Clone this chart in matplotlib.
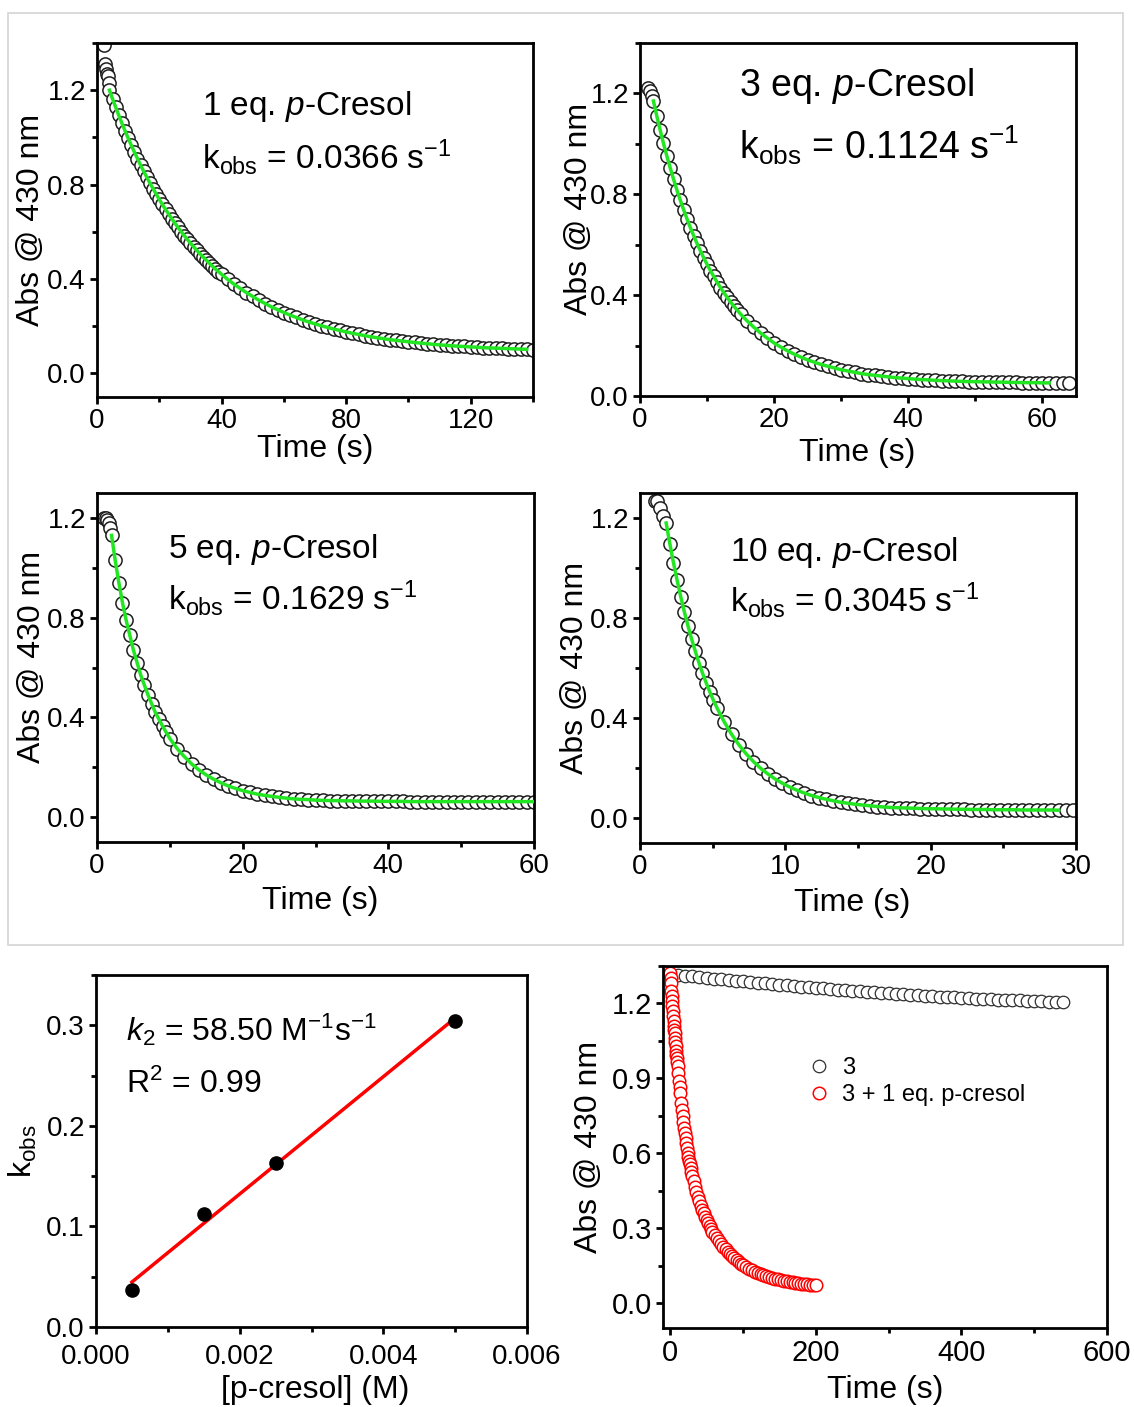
import matplotlib
matplotlib.use('Agg')
import matplotlib.pyplot as plt
from matplotlib.patches import Rectangle
from matplotlib.ticker import MultipleLocator, FormatStrFormatter
import numpy as np

plt.rcParams['font.family'] = ['Liberation Sans', 'DejaVu Sans']
plt.rcParams['mathtext.fontset'] = 'custom'
plt.rcParams['mathtext.rm'] = 'Liberation Sans'
plt.rcParams['mathtext.it'] = 'Liberation Sans:italic'
plt.rcParams['mathtext.bf'] = 'Liberation Sans:bold'

# ---- data ----
# 1 eq. p-cresol
t_1eq = [2.2, 2.5, 2.8, 3.1, 3.4, 3.7,
         4, 5, 6, 7, 8, 9, 10, 11, 12, 13, 14, 15, 16, 17, 18, 19, 20, 21,
         22, 23, 24, 25, 26, 27, 28, 29, 30, 31, 32, 33, 34, 35, 36, 37, 38, 39,
         40, 42, 44, 46, 48, 50, 52, 54, 56, 58, 60, 62, 64, 66, 68, 70, 72,
         74, 76, 78, 80, 82, 84, 86, 88, 90, 92, 94, 96, 98, 100, 102, 104,
         106, 108, 110, 112, 114, 116, 118, 120, 122, 124, 126, 128, 130, 132,
         134, 136, 138, 140]
a_1eq = [1.39, 1.31, 1.29, 1.27, 1.26, 1.23,
         1.200, 1.163, 1.128, 1.093, 1.060, 1.028, 0.997, 0.967, 0.938, 0.910,
         0.882, 0.856, 0.831, 0.806, 0.783, 0.760, 0.737, 0.716, 0.695, 0.675,
         0.656, 0.637, 0.619, 0.601, 0.584, 0.568, 0.552, 0.537, 0.522, 0.508,
         0.494, 0.481, 0.468, 0.455, 0.443, 0.431,
         0.420, 0.398, 0.378, 0.360, 0.342, 0.326, 0.310, 0.296, 0.282, 0.270,
         0.258, 0.247, 0.237, 0.227, 0.218, 0.210, 0.202, 0.195, 0.188, 0.182,
         0.176, 0.170, 0.165, 0.160, 0.155, 0.151, 0.147, 0.143, 0.140, 0.137,
         0.134, 0.131, 0.128, 0.126, 0.123, 0.121, 0.119, 0.117, 0.115, 0.114,
         0.112, 0.111, 0.109, 0.108, 0.107, 0.106, 0.105, 0.104, 0.103, 0.102,
         0.101]

# 3 eq. p-cresol
t_3eq = [1.2, 1.5, 1.8, 2, 2.5, 3, 3.5, 4, 4.5, 5, 5.5, 6, 6.5, 7, 7.5, 8,
         8.5, 9, 9.5, 10, 10.5, 11, 11.5, 12, 12.5, 13, 13.5, 14, 14.5, 15,
         16, 17, 18, 19, 20, 21, 22, 23, 24, 25, 26, 27, 28, 29, 30, 31, 32,
         33, 34, 35, 36, 37, 38, 39, 40, 41, 42, 43, 44, 45, 46, 47, 48, 49,
         50, 51, 52, 53, 54, 55, 56, 57, 58, 59, 60, 61, 62, 63, 64]
a_3eq = [1.22, 1.21, 1.19, 1.170, 1.111, 1.055, 1.002, 0.952, 0.905, 0.860,
         0.817, 0.777, 0.739, 0.703, 0.668, 0.636, 0.605, 0.576, 0.548, 0.522,
         0.497, 0.474, 0.451, 0.430, 0.410, 0.391, 0.373, 0.356, 0.340, 0.325,
         0.297, 0.272, 0.249, 0.229, 0.210, 0.194, 0.179, 0.166, 0.154, 0.143,
         0.134, 0.125, 0.118, 0.111, 0.104, 0.099, 0.094, 0.089, 0.085, 0.082,
         0.079, 0.076, 0.073, 0.071, 0.069, 0.067, 0.065, 0.064, 0.062, 0.061,
         0.060, 0.059, 0.058, 0.057, 0.057, 0.056, 0.056, 0.055, 0.055, 0.054,
         0.054, 0.053, 0.053, 0.053, 0.052, 0.052, 0.052, 0.052, 0.052]

# 5 eq. p-cresol
t_5eq = [1.0, 1.2, 1.4, 1.6, 1.8, 2, 2.5, 3, 3.5, 4, 4.5, 5, 5.5, 6, 6.5, 7,
         7.5, 8, 8.5, 9, 9.5, 10, 11, 12, 13, 14, 15, 16, 17, 18, 19, 20, 21,
         22, 23, 24, 25, 26, 27, 28, 29, 30, 31, 32, 33, 34, 35, 36, 37, 38,
         39, 40, 41, 42, 43, 44, 45, 46, 47, 48, 49, 50, 51, 52, 53, 54, 55,
         56, 57, 58, 59, 60]
a_5eq = [1.20, 1.20, 1.19, 1.18, 1.16, 1.13, 1.03, 0.94, 0.86, 0.79, 0.73,
         0.67, 0.62, 0.57, 0.53, 0.49, 0.455, 0.42, 0.393, 0.365, 0.34, 0.315,
         0.275, 0.242, 0.213, 0.189, 0.169, 0.152, 0.138, 0.125, 0.115, 0.106,
         0.099, 0.092, 0.087, 0.083, 0.079, 0.076, 0.073, 0.071, 0.070, 0.068,
         0.067, 0.066, 0.066, 0.065, 0.065, 0.064, 0.064, 0.064, 0.063, 0.063,
         0.063, 0.063, 0.062, 0.062, 0.062, 0.062, 0.062, 0.062, 0.062, 0.062,
         0.062, 0.062, 0.062, 0.062, 0.062, 0.062, 0.062, 0.062, 0.062, 0.062]

# 10 eq. p-cresol
t_10eq = [1.0, 1.2, 1.4, 1.6, 1.8, 2.05, 2.3, 2.55, 2.8, 3.05, 3.3, 3.55, 3.8,
          4.05, 4.3, 4.55, 4.8, 5.05, 5.3, 5.8, 6.3, 6.8, 7.3, 7.8, 8.3, 8.8,
          9.3, 9.8, 10.3, 10.8, 11.3, 11.8, 12.3, 12.8, 13.3, 13.8, 14.3, 14.8,
          15.3, 15.8, 16.3, 16.8, 17.3, 17.8, 18.3, 18.8, 19.3, 19.8, 20.3,
          20.8, 21.3, 21.8, 22.3, 22.8, 23.3, 23.8, 24.3, 24.8, 25.3, 25.8,
          26.3, 26.8, 27.3, 27.8, 28.3, 28.8, 29.3, 29.8]
a_10eq = [1.27, 1.27, 1.24, 1.21, 1.180, 1.098, 1.022, 0.952, 0.886, 0.825,
          0.769, 0.716, 0.668, 0.622, 0.580, 0.541, 0.505, 0.471, 0.440, 0.384,
          0.335, 0.293, 0.257, 0.226, 0.199, 0.176, 0.156, 0.139, 0.124, 0.111,
          0.100, 0.090, 0.082, 0.075, 0.069, 0.063, 0.059, 0.055, 0.052, 0.049,
          0.046, 0.044, 0.042, 0.041, 0.040, 0.039, 0.038, 0.037, 0.037, 0.036,
          0.036, 0.035, 0.035, 0.034, 0.034, 0.034, 0.033, 0.033, 0.033, 0.033,
          0.032, 0.032, 0.032, 0.032, 0.032, 0.031, 0.031, 0.031]

# k_obs vs [p-cresol]
conc = [0.0005, 0.0015, 0.0025, 0.005]
kobs = [0.0366, 0.1124, 0.1629, 0.3045]

# complex 3 alone
t_3 = [0, 10, 20, 30, 40, 50, 60, 70, 80, 90, 100, 110, 120, 130, 140, 150,
       160, 170, 180, 190, 200, 210, 220, 230, 240, 250, 260, 270, 280, 290,
       300, 310, 320, 330, 340, 350, 360, 370, 380, 390, 400, 410, 420, 430,
       440, 450, 460, 470, 480, 490, 500, 510, 520, 530, 540]
a_3 = [1.316, 1.313, 1.310, 1.308, 1.305, 1.302, 1.299, 1.296, 1.294, 1.291,
       1.288, 1.285, 1.283, 1.280, 1.278, 1.275, 1.272, 1.270, 1.267, 1.265,
       1.262, 1.260, 1.258, 1.255, 1.253, 1.251, 1.249, 1.247, 1.244, 1.242,
       1.240, 1.238, 1.236, 1.235, 1.233, 1.231, 1.229, 1.227, 1.226, 1.224,
       1.222, 1.221, 1.219, 1.218, 1.217, 1.215, 1.214, 1.213, 1.212, 1.210,
       1.209, 1.208, 1.206, 1.205, 1.204]

# 3 + 1 eq. p-cresol
t_3c = [0, 0.5, 1, 1.5, 2, 2.5, 3, 3.5, 4, 4.5, 5, 5.5, 6, 6.5, 7, 7.5, 8,
        8.5, 9, 9.5, 10, 11, 12, 13, 14, 15, 16, 17, 18, 19, 20, 21, 22, 23,
        24, 25, 26, 27, 28, 29, 30, 32, 34, 36, 38, 40, 42, 44, 46, 48, 50,
        52, 54, 56, 58, 61, 64, 67, 70, 73, 76, 79, 82, 85, 88, 91, 94, 97,
        100, 104, 108, 112, 116, 120, 124, 128, 132, 136, 140, 144, 148, 152,
        156, 160, 164, 168, 172, 176, 180, 184, 188, 192, 196, 200]
a_3c = [1.32, 1.30, 1.28, 1.25, 1.23, 1.21, 1.19, 1.17, 1.15, 1.13, 1.11,
        1.095, 1.08, 1.06, 1.045, 1.03, 1.01, 0.995, 0.98, 0.965, 0.95, 0.92,
        0.89, 0.865, 0.84, 0.80, 0.775, 0.75, 0.725, 0.70, 0.68, 0.66, 0.64,
        0.62, 0.60, 0.585, 0.57, 0.555, 0.54, 0.525, 0.51, 0.487, 0.465,
        0.445, 0.426, 0.408, 0.39, 0.374, 0.359, 0.345, 0.332, 0.32, 0.308,
        0.297, 0.286, 0.272, 0.259, 0.247, 0.236, 0.225, 0.215, 0.206, 0.197,
        0.188, 0.180, 0.172, 0.165, 0.158, 0.152, 0.145, 0.138, 0.132, 0.126,
        0.121, 0.116, 0.112, 0.108, 0.104, 0.101, 0.098, 0.095, 0.092, 0.090,
        0.088, 0.086, 0.084, 0.082, 0.080, 0.078, 0.077, 0.075, 0.074, 0.072,
        0.071]

W, H = 1134, 1407
fig = plt.figure(figsize=(W / 100, H / 100), dpi=100)


def px_axes(l, r, t, b):
    return fig.add_axes([l / W, (H - b) / H, (r - l) / W, (b - t) / H])


def style(ax, xlim, ylim, xmaj, xmin, ymaj, ymin, xfmt, yfmt, tsize=20, xpad=3):
    ax.set_xlim(*xlim)
    ax.set_ylim(*ylim)
    ax.xaxis.set_major_locator(MultipleLocator(xmaj))
    ax.xaxis.set_minor_locator(MultipleLocator(xmin))
    ax.yaxis.set_major_locator(MultipleLocator(ymaj))
    ax.yaxis.set_minor_locator(MultipleLocator(ymin))
    ax.xaxis.set_major_formatter(FormatStrFormatter(xfmt))
    ax.yaxis.set_major_formatter(FormatStrFormatter(yfmt))
    for s in ax.spines.values():
        s.set_linewidth(2.0)
    ax.tick_params(which='major', direction='out', length=5, width=2,
                   labelsize=tsize, pad=3)
    ax.tick_params(axis='x', which='major', pad=xpad)
    ax.tick_params(which='minor', direction='out', length=3.5, width=2)
    ax.tick_params(top=False, right=False, which='both')


def labels(ax, xl, yl, xc, yc, size=23):
    ax.set_xlabel(xl, fontsize=size)
    ax.set_ylabel(yl, fontsize=size)
    ax.xaxis.set_label_coords(*xc)
    ax.yaxis.set_label_coords(*yc)
    ax.xaxis.label.set_va('center')
    ax.yaxis.label.set_va('center')


def decay(ax, t, a, i0, i1, eq, k, pos, size=24):
    ax.plot(t, a, 'o', ms=9.5, mfc='white', mec='#1e1e1e', mew=1.1, zorder=2)
    ax.plot(t[i0:i1], a[i0:i1], color='#22e622', lw=2.5, zorder=3)
    ax.text(pos[0], pos[1], eq + r' eq. $\mathit{p}$-Cresol', fontsize=size,
            transform=ax.transAxes, ha='left', va='center')
    ax.text(pos[0], pos[2], r'k$_{\mathrm{obs}}$ = ' + k + r' s$^{-1}$',
            fontsize=size, transform=ax.transAxes, ha='left', va='center')


# light frame around the four kinetic traces
fig.add_artist(Rectangle((8 / W, (H - 945) / H), 1115 / W, 932 / H,
                         transform=fig.transFigure, fill=False,
                         edgecolor='#d4d4d4', lw=1.2))

ax1 = px_axes(97, 533, 43, 397)
decay(ax1, t_1eq, a_1eq, 6, len(t_1eq) - 1, '1', '0.0366', (0.241, 0.822, 0.678))
style(ax1, (0, 140), (-0.1, 1.4), 40, 20, 0.4, 0.2, '%d', '%.1f')
labels(ax1, 'Time (s)', 'Abs @ 430 nm', (0.5, -0.147), (-0.151, 0.5))

ax2 = px_axes(640, 1076, 43, 396)
decay(ax2, t_3eq, a_3eq, 3, len(t_3eq) - 3, '3', '0.1124', (0.227, 0.878, 0.711), size=27)
style(ax2, (0, 65), (0, 1.4), 20, 10, 0.4, 0.2, '%d', '%.1f')
labels(ax2, 'Time (s)', 'Abs @ 430 nm', (0.498, -0.161), (-0.140, 0.53))

ax3 = px_axes(97, 534, 493, 842)
decay(ax3, t_5eq, a_5eq, 5, len(t_5eq), '5', '0.1629', (0.163, 0.837, 0.699))
style(ax3, (0, 60), (-0.1, 1.3), 20, 10, 0.4, 0.2, '%d', '%.1f')
labels(ax3, 'Time (s)', 'Abs @ 430 nm', (0.51, -0.169), (-0.149, 0.53))

ax4 = px_axes(640, 1076, 493, 843)
decay(ax4, t_10eq, a_10eq, 4, len(t_10eq) - 2, '10', '0.3045', (0.206, 0.829, 0.694))
style(ax4, (0, 30), (-0.1, 1.3), 10, 5, 0.4, 0.2, '%d', '%.1f')
labels(ax4, 'Time (s)', 'Abs @ 430 nm', (0.487, -0.171), (-0.149, 0.5))

# second-order plot
ax5 = px_axes(96, 527, 975, 1327)
slope, icpt = np.polyfit(conc, kobs, 1)
cx = np.array([conc[0], conc[-1]])
ax5.plot(cx, slope * cx + icpt, color='#ff0000', lw=2.5, zorder=2)
ax5.plot(conc, kobs, 'o', color='black', ms=9.5, zorder=3)
ax5.text(0.070, 0.844, r'$\mathit{k}_2$ = 58.50 M$^{-1}$s$^{-1}$', fontsize=23,
         transform=ax5.transAxes, ha='left', va='center')
ax5.text(0.070, 0.688, r'R$^2$ = 0.99', fontsize=23,
         transform=ax5.transAxes, ha='left', va='center')
style(ax5, (0, 0.006), (0, 0.35), 0.002, 0.001, 0.1, 0.05, '%.3f', '%.1f',
      tsize=20, xpad=7)
labels(ax5, '[p-cresol] (M)', r'k$_{\mathrm{obs}}$', (0.508, -0.179), (-0.169, 0.5))

# 3 vs 3 + p-cresol
ax6 = px_axes(663, 1107, 966, 1328)
ax6.plot(t_3, a_3, 'o', ms=9, mfc='white', mec='#303030', mew=0.9, label='3')
ax6.plot(t_3c, a_3c, 'o', ms=9, mfc='white', mec='#ff0000', mew=1.1,
         label='3 + 1 eq. p-cresol')
style(ax6, (-10, 600), (-0.1, 1.35), 200, 100, 0.3, 0.15, '%d', '%.1f', tsize=21)
labels(ax6, 'Time (s)', 'Abs @ 430 nm', (0.5, -0.171), (-0.167, 0.5))
ax6.legend(loc='center left', bbox_to_anchor=(0.324, 0.68), frameon=False,
           fontsize=17, handlelength=1.0, handletextpad=0.5, labelspacing=0.2,
           borderpad=0, borderaxespad=0, numpoints=1)

fig.savefig('out.png', dpi=100)
